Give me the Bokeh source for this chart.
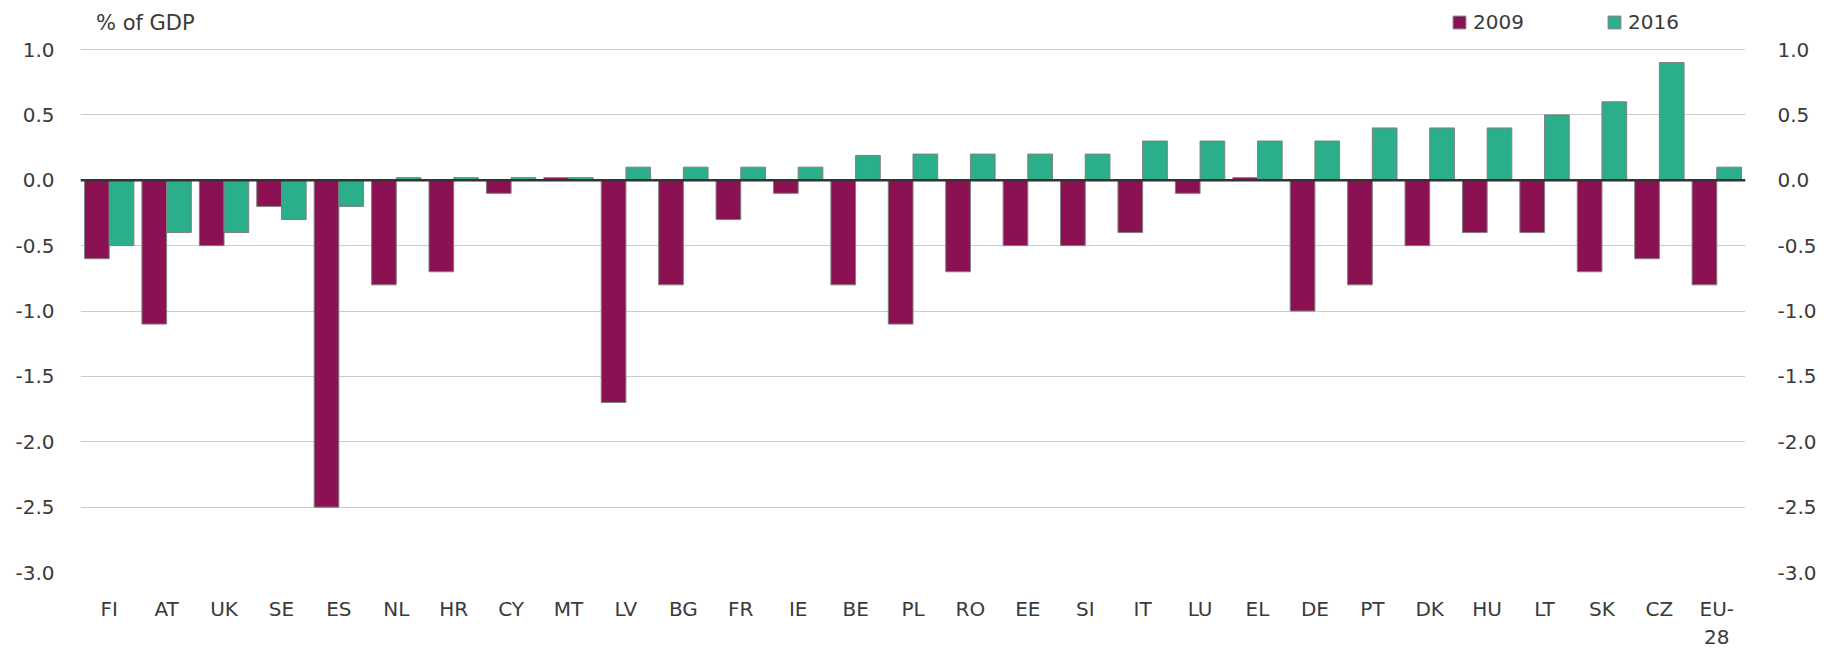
from bokeh.plotting import figure
from bokeh.models import (ColumnDataSource, FactorRange, Range1d, LinearAxis, FixedTicker,
                          Span, Legend, LegendItem, Label, NumeralTickFormatter)
from bokeh.transform import dodge
from bokeh.embed import file_html
from bokeh.resources import INLINE

countries = ["FI", "AT", "UK", "SE", "ES", "NL", "HR", "CY", "MT", "LV", "BG", "FR", "IE", "BE",
             "PL", "RO", "EE", "SI", "IT", "LU", "EL", "DE", "PT", "DK", "HU", "LT", "SK", "CZ", "EU-\n28"]
v2009 = [-0.6, -1.1, -0.5, -0.2, -2.5, -0.8, -0.7, -0.1, 0.02, -1.7, -0.8, -0.3, -0.1, -0.8,
         -1.1, -0.7, -0.5, -0.5, -0.4, -0.1, 0.02, -1.0, -0.8, -0.5, -0.4, -0.4, -0.7, -0.6, -0.8]
v2016 = [-0.5, -0.4, -0.4, -0.3, -0.2, 0.02, 0.02, 0.02, 0.02, 0.1, 0.1, 0.1, 0.1, 0.19,
         0.2, 0.2, 0.2, 0.2, 0.3, 0.3, 0.3, 0.3, 0.4, 0.4, 0.4, 0.5, 0.6, 0.9, 0.1]
y_ticks = [1.0, 0.5, 0.0, -0.5, -1.0, -1.5, -2.0, -2.5, -3.0]

FONT = "DejaVu Sans"
TXT = "#3a3a3a"
C09 = "#8c1152"
C16 = "#2bae8a"

# frame spans page y 0..572; 1.0 gridline sits 49px below frame top
PX_PER_UNIT = 572 / 4.375
Y_TOP = 1.0 + 49 / PX_PER_UNIT

src = ColumnDataSource(dict(c=countries, a=v2009, b=v2016))

p = figure(x_range=FactorRange(*countries, range_padding=0), y_range=Range1d(-3.0, Y_TOP),
           width=1819, height=656, output_backend="svg", toolbar_location=None,
           min_border_left=80, min_border_right=66, min_border_top=0, min_border_bottom=84)
p.outline_line_color = None
p.background_fill_color = "white"

r1 = p.vbar(x=dodge("c", -0.215, range=p.x_range), top="a", bottom=0, width=0.43, source=src,
            fill_color=C09, line_color="#7f7f7f", line_width=1)
r2 = p.vbar(x=dodge("c", 0.215, range=p.x_range), top="b", bottom=0, width=0.43, source=src,
            fill_color=C16, line_color="#7f7f7f", line_width=1)

p.add_layout(Span(location=0, dimension="width", line_color="#333333", line_width=2.5))

p.xgrid.grid_line_color = None
p.ygrid.grid_line_color = "#cccccc"
p.ygrid.grid_line_width = 1
p.ygrid.ticker = FixedTicker(ticks=y_ticks)

def style_axis(ax):
    ax.axis_line_color = None
    ax.major_tick_line_color = None
    ax.minor_tick_line_color = None
    ax.major_label_text_font = FONT
    ax.major_label_text_font_size = "20px"
    ax.major_label_text_color = TXT

yl = p.yaxis[0]
yl.ticker = FixedTicker(ticks=y_ticks)
yl.formatter = NumeralTickFormatter(format="0.0")
yl.major_label_standoff = 20
style_axis(yl)

yr = LinearAxis(ticker=FixedTicker(ticks=y_ticks), formatter=NumeralTickFormatter(format="0.0"))
yr.major_label_standoff = 26
style_axis(yr)
p.add_layout(yr, "right")

xa = p.xaxis[0]
style_axis(xa)
xa.major_label_standoff = 18

legend = Legend(items=[LegendItem(label="2009", renderers=[r1]),
                       LegendItem(label="2016", renderers=[r2])],
                location=(1371, 538), orientation="horizontal",
                glyph_width=16, glyph_height=16, label_standoff=6, label_width=100, spacing=33,
                padding=0, margin=0, border_line_color=None, background_fill_alpha=0,
                label_text_font=FONT, label_text_font_size="20px", label_text_color=TXT)
p.add_layout(legend, "center")

p.add_layout(Label(x=0.27, y=1.0 + 27 / PX_PER_UNIT, text="% of GDP",
                   text_font=FONT, text_font_size="21px", text_color=TXT, text_baseline="middle"))

open("out.html", "w").write(file_html(p, INLINE))
